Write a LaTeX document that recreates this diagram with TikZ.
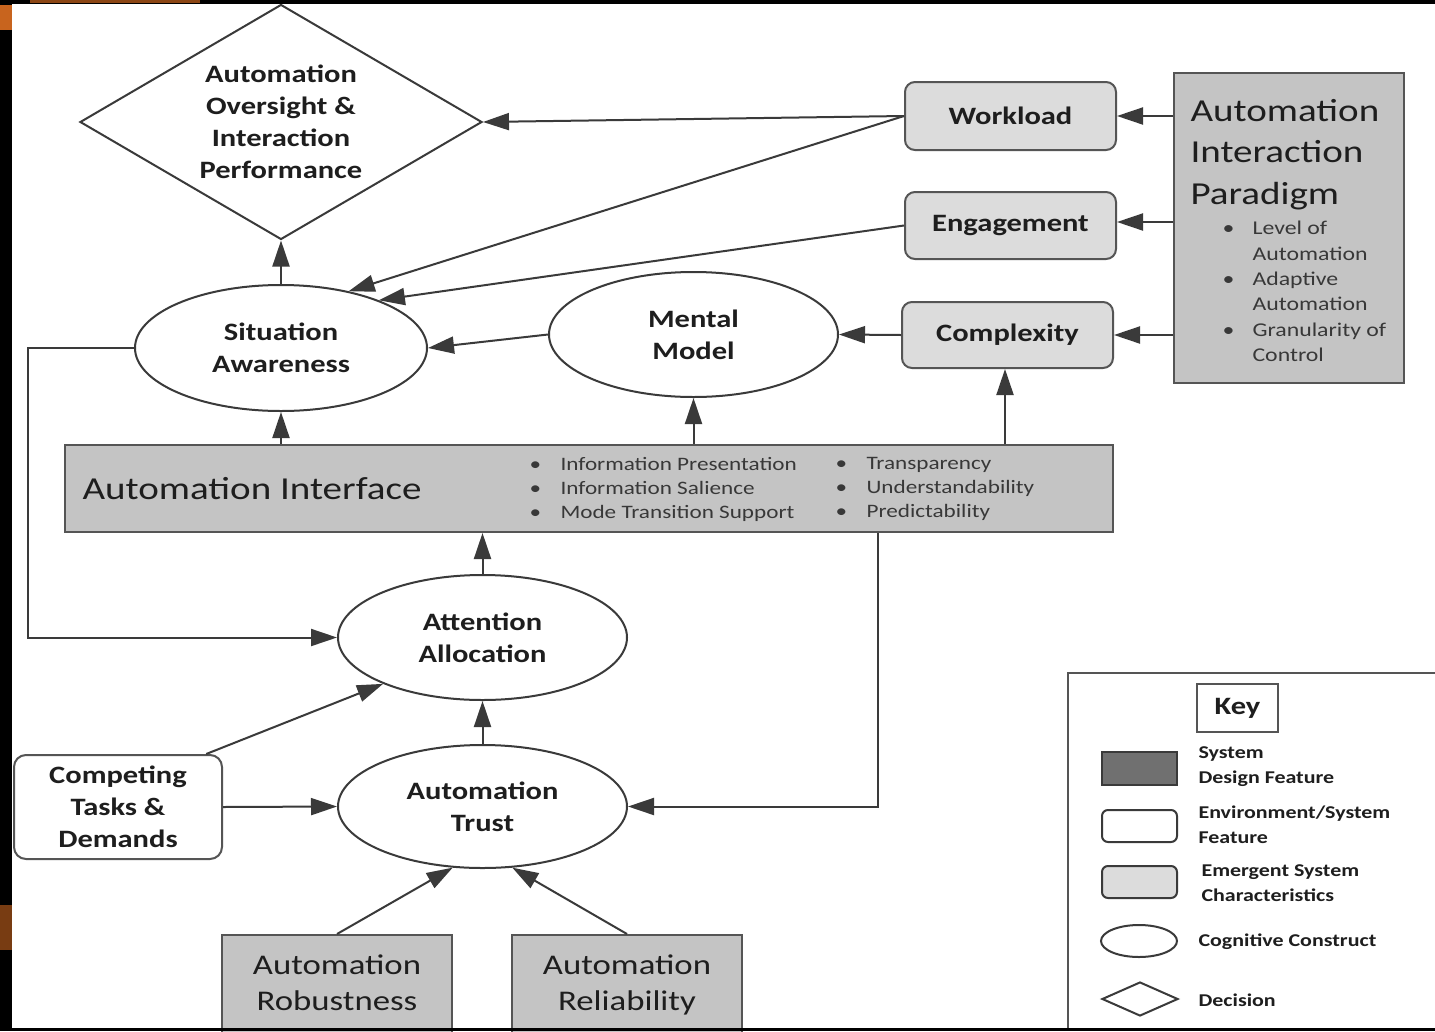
\documentclass[tikz,border=0pt]{standalone}
\usepackage{fontspec}
\setmainfont{Carlito}[FakeStretch=1.22]
\usetikzlibrary{shapes.geometric,arrows.meta}
\definecolor{lg}{HTML}{DCDCDC}
\definecolor{mg}{HTML}{C4C4C4}
\definecolor{dg}{HTML}{707070}
\definecolor{ln}{HTML}{3A3A3A}
\definecolor{bd}{HTML}{555555}
\definecolor{tx}{HTML}{1E1E1E}
\definecolor{orng}{HTML}{C8641E}
\newcommand\myfs[2]{\fontsize{#1}{#2}\selectfont}
\tikzset{
  every node/.style={text=tx},
  conn/.style={draw=ln,line width=2pt,-{Triangle[length=26pt,width=17pt]}},
  lgbox/.style={rectangle,rounded corners=10pt,draw=bd,line width=2pt,fill=lg,inner sep=0pt,font=\myfs{25}{32}\bfseries},
  mgbox/.style={rectangle,draw=bd,line width=2pt,fill=mg,inner sep=0pt},
  cogn/.style={ellipse,draw=ln,line width=2pt,fill=white,inner sep=0pt,align=center,font=\myfs{25}{32}\bfseries},
  keytxt/.style={anchor=west,align=left,font=\myfs{18}{25}\bfseries},
  smalltxt/.style={anchor=west,align=left,text=black!78},
}
\begin{document}
\begin{tikzpicture}[x=1pt,y=-1pt]
\useasboundingbox (0,0) rectangle (1435,1031);
% frame
\fill[black] (0,0) rectangle (1435,1031);
\fill[orng] (0,5) rectangle (12,30);
\fill[orng!70!black] (30,0) rectangle (200,3);
\fill[orng!60!black] (0,905) rectangle (12,950);
\fill[white] (12,4) rectangle (1435,1028);

% decision
\node[diamond,draw=ln,line width=2pt,minimum width=402pt,minimum height=235pt,aspect=1.71,inner sep=0pt,align=center,font=\myfs{25}{32}\bfseries] (dec) at (281,122) {Automation\\Oversight \&\\Interaction\\Performance};

% emergent characteristics
\node[lgbox,minimum width=211pt,minimum height=68pt] (wl) at (1010.5,116) {Workload};
\node[lgbox,minimum width=211pt,minimum height=67pt] (en) at (1010.5,225.5) {Engagement};
\node[lgbox,minimum width=211pt,minimum height=66pt] (cx) at (1007.5,335) {Complexity};

% automation interaction paradigm
\node[mgbox,minimum width=230pt,minimum height=310pt] (aip) at (1289,228) {};
\node[anchor=west,align=left,font=\myfs{32}{41.5}] (aipt) at (1187,154.5) {Automation\\Interaction\\Paradigm};
\node[smalltxt,font=\myfs{19.5}{25.4}] (aipb) at (1219,291.5) {\makebox[30pt][l]{•}Level of\\\hspace*{30pt}Automation\\\makebox[30pt][l]{•}Adaptive\\\hspace*{30pt}Automation\\\makebox[30pt][l]{•}Granularity of\\\hspace*{30pt}Control};

% cognitive constructs
\node[cogn,minimum width=292pt,minimum height=126pt] (sa) at (281,348) {Situation\\Awareness};
\node[cogn,minimum width=289pt,minimum height=125pt] (mm) at (693.5,334.5) {Mental\\Model};
\node[cogn,minimum width=289pt,minimum height=125pt] (att) at (482.5,637.5) {Attention\\Allocation};
\node[cogn,minimum width=289pt,minimum height=123pt] (tr) at (482.5,806.5) {Automation\\Trust};

% automation interface
\node[mgbox,minimum width=1048pt,minimum height=87pt] (ai) at (589,488.5) {};
\node[anchor=west,font=\myfs{32}{40}] (ait) at (79,489) {Automation Interface};
\node[smalltxt,font=\myfs{19}{24}] (aib1) at (526,489) {\makebox[31pt][l]{•}Information Presentation\\\makebox[31pt][l]{•}Information Salience\\\makebox[31pt][l]{•}Mode Transition Support};
\node[smalltxt,font=\myfs{19}{24}] (aib2) at (832,489) {\makebox[31pt][l]{•}Transparency\\\makebox[31pt][l]{•}Understandability\\\makebox[31pt][l]{•}Predictability};

% environment feature
\node[rectangle,rounded corners=12pt,draw=bd,line width=2pt,fill=white,minimum width=208pt,minimum height=104pt,inner sep=0pt,align=center,font=\myfs{25}{32}\bfseries] (ct) at (118,807) {Competing\\Tasks \&\\Demands};

% system design features
\node[mgbox,minimum width=230pt,minimum height=99pt,align=center,font=\myfs{28.5}{36}] (rob) at (337,984.5) {Automation\\Robustness\vphantom{y}};
\node[mgbox,minimum width=230pt,minimum height=99pt,align=center,font=\myfs{28.5}{36}] (rel) at (627,984.5) {Automation\\Reliability};

% connectors
\draw[conn] (wl.west) -- (dec.east);
\draw[conn] (wl.west) -- (sa.40);
\draw[conn] (en.west) -- (sa.26);
\draw[conn] (mm.west) -- (sa.east);
\draw[conn] (cx.west) -- (mm.east);
\draw[conn] (aip.west |- wl) -- (wl.east);
\draw[conn] (aip.west |- 0,222) -- (en.east |- 0,222);
\draw[conn] (aip.west |- cx) -- (cx.east);
\draw[conn] (sa.north) -- (dec.south);
\draw[conn] (ai.north -| sa) -- (sa.south);
\draw[conn] (ai.north -| mm) -- (mm.south);
\draw[conn] (ai.north -| 1005,0) -- (cx.south -| 1005,0);
\draw[conn] (att.north) -- (ai.south -| att);
\coordinate (loopc) at (28,637.5);
\draw[conn] (sa.west) -| (loopc) -- (att.west);
\draw[conn] (tr.north) -- (att.south);
\draw[conn] (ct.31) -- (att.205);
\draw[conn] (ct.east) -- (tr.west);
\coordinate (trin) at (878,806.5);
\draw[conn] (ai.south -| trin) -- (trin) -- (tr.east);
\draw[conn] (rob.north) -- (tr.244);
\draw[conn] (rel.north) -- (tr.296);

% key
\draw[draw=bd,line width=2pt] (1068,1029) -- (1068,673) -- (1436,673);
\node[rectangle,draw=bd,line width=2pt,fill=white,minimum width=81pt,minimum height=48pt,inner sep=0pt,font=\myfs{25}{30}\bfseries] (key) at (1237.5,708) {Key};
\node[rectangle,draw=ln,line width=2pt,fill=dg,minimum width=75pt,minimum height=33pt,inner sep=0pt] (k1) at (1139.5,768.5) {};
\node[rectangle,rounded corners=6pt,draw=ln,line width=2pt,fill=white,minimum width=75pt,minimum height=32pt,inner sep=0pt] (k2) at (1139.5,826) {};
\node[rectangle,rounded corners=6pt,draw=ln,line width=2pt,fill=lg,minimum width=75pt,minimum height=32pt,inner sep=0pt] (k3) at (1139.5,882) {};
\node[ellipse,draw=ln,line width=2pt,fill=white,minimum width=76pt,minimum height=32pt,inner sep=0pt] (k4) at (1139,941) {};
\node[diamond,draw=ln,line width=2pt,fill=white,minimum width=76pt,minimum height=34pt,aspect=2.2,inner sep=0pt] (k5) at (1140,999) {};
\node[keytxt] (k1t) at (1195,767) {System\\Design Feature};
\node[keytxt] (k2t) at (1195,825) {Environment/System\\Feature};
\node[keytxt] (k3t) at (1198,883.5) {Emergent System\\Characteristics};
\node[keytxt] (k4t) at (1195,942) {Cognitive Construct};
\node[keytxt] (k5t) at (1195,1000) {Decision};

% bottom edge of the frame over the boxes
\fill[black] (12,1028) rectangle (1435,1031);
\end{tikzpicture}
\end{document}
